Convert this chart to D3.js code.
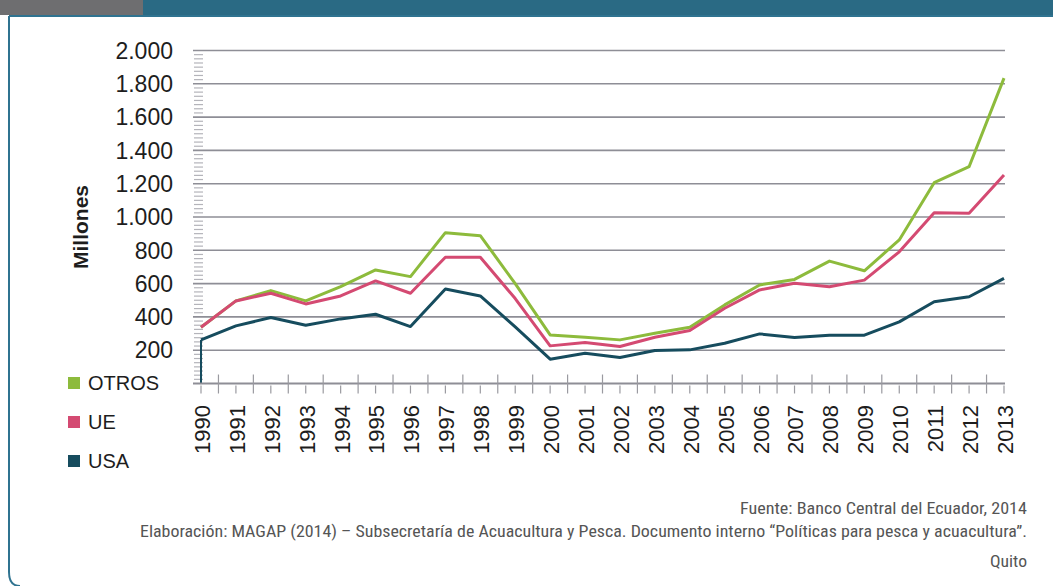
<!DOCTYPE html>
<html>
<head>
<meta charset="utf-8">
<script src="https://cdn.jsdelivr.net/npm/d3@7"></script>
<style>
  body { margin: 0; background: #fff; }
  svg { display: block; font-family: "Liberation Sans", Arial, sans-serif; }
</style>
</head>
<body>
<div id="chart"></div>
<script>
// years and series, values in millions
let years = d3.range(1990, 2014);
let otros = [338, 496, 558, 496, 582, 682, 642, 906, 888, 600, 292, 278, 262, 302, 338, 472, 592, 625, 735, 677, 862, 1206, 1302, 1834];
let ue = [338, 496, 542, 478, 526, 616, 542, 758, 758, 510, 226, 246, 222, 278, 318, 452, 562, 602, 581, 621, 791, 1026, 1022, 1252];
let usa = [262, 346, 396, 350, 388, 416, 342, 568, 526, 340, 146, 182, 156, 198, 202, 242, 298, 276, 290, 290, 370, 491, 521, 631];
let yTicks = [200, 400, 600, 800, 1000, 1200, 1400, 1600, 1800, 2000];
let seriesNames = ['OTROS', 'UE', 'USA'];
let seriesColors = ['#8dbb3c', '#d44a72', '#164c5e'];

let width = 1053, height = 586;

let svg = d3.select('#chart')
    .append('svg')
    .attr('width', width)
    .attr('height', height);

// frame: banner on top + thin border on the left
svg.append('rect').attr('x', 0).attr('y', 0).attr('width', width).attr('height', 15).attr('fill', '#2a6a84');
svg.append('rect').attr('x', 0).attr('y', 0).attr('width', 143).attr('height', 15).attr('fill', '#6e6e70');
svg.append('path')
    .attr('d', 'M9,16 H' + width + ' M9,16 V572 Q9,586 20,586')
    .attr('fill', 'none')
    .attr('stroke', '#2f7390')
    .attr('stroke-width', 2);

let x = d3.scalePoint()
    .domain(years)
    .range([201, 1004]);

let y = d3.scaleLinear()
    .domain([0, 2000])
    .range([383.5, 50.5]);

let step = x.step();

// gridlines
svg.append('g')
    .selectAll('line')
    .data(yTicks)
    .enter()
    .append('line')
    .attr('x1', 193)
    .attr('x2', 1005)
    .attr('y1', function(d) { return y(d); })
    .attr('y2', function(d) { return y(d); })
    .attr('stroke', '#8e8e96')
    .attr('stroke-width', 1.6);

// little minor ticks on the left
svg.append('g')
    .selectAll('line')
    .data(d3.range(25, 2000, 25).filter(function(d) { return d % 200 !== 0; }))
    .enter()
    .append('line')
    .attr('x1', 194)
    .attr('x2', 203)
    .attr('y1', function(d) { return y(d); })
    .attr('y2', function(d) { return y(d); })
    .attr('stroke', '#b4b4ba')
    .attr('stroke-width', 1.2);

// short vertical stub at 1990 (as in the original)
svg.append('line')
    .attr('x1', x(1990)).attr('x2', x(1990))
    .attr('y1', y(0)).attr('y2', y(usa[0]))
    .attr('stroke', seriesColors[2])
    .attr('stroke-width', 2);

// x axis
svg.append('line')
    .attr('x1', 193)
    .attr('x2', 1005)
    .attr('y1', y(0))
    .attr('y2', y(0))
    .attr('stroke', '#8e8e96')
    .attr('stroke-width', 2);

svg.append('g')
    .selectAll('line')
    .data(years)
    .enter()
    .append('line')
    .attr('x1', function(d) { return x(d); })
    .attr('x2', function(d) { return x(d); })
    .attr('y1', y(0) + 2)
    .attr('y2', y(0) + 10)
    .attr('stroke', '#9a9aa0')
    .attr('stroke-width', 1.2);

svg.append('g')
    .selectAll('line')
    .data(years.slice(0, -1))
    .enter()
    .append('line')
    .attr('x1', function(d) { return x(d) + step / 2; })
    .attr('x2', function(d) { return x(d) + step / 2; })
    .attr('y1', y(0) - 9)
    .attr('y2', y(0) + 10)
    .attr('stroke', '#9a9aa0')
    .attr('stroke-width', 1.2);

svg.append('g')
    .selectAll('text')
    .data(years)
    .enter()
    .append('text')
    .attr('transform', function(d) { return 'translate(' + (x(d) + 1) + ',405) rotate(-90)'; })
    .attr('text-anchor', 'end')
    .attr('dy', '0.36em')
    .attr('font-size', 22)
    .attr('fill', '#1d1d1d')
    .text(function(d) { return d; });

// y labels
let fmt = d3.formatLocale({ decimal: ',', thousands: '.', grouping: [3], currency: ['', ''] }).format(',');
svg.append('g')
    .selectAll('text')
    .data(yTicks)
    .enter()
    .append('text')
    .attr('x', 173)
    .attr('y', function(d) { return y(d); })
    .attr('dy', '0.36em')
    .attr('text-anchor', 'end')
    .attr('font-size', 23)
    .attr('fill', '#1d1d1d')
    .text(function(d) { return fmt(d); });

svg.append('text')
    .attr('transform', 'translate(80,227) rotate(-90)')
    .attr('text-anchor', 'middle')
    .attr('dy', '0.36em')
    .attr('font-size', 21)
    .attr('font-weight', 'bold')
    .attr('fill', '#1d1d1d')
    .text('Millones');

// lines
let line = d3.line()
    .x(function(d, i) { return x(years[i]); })
    .y(function(d) { return y(d); });

svg.append('g')
    .selectAll('path')
    .data([otros, ue, usa])
    .enter()
    .append('path')
    .attr('d', function(d) { return line(d); })
    .attr('fill', 'none')
    .attr('stroke', function(d, i) { return seriesColors[i]; })
    .attr('stroke-width', 3)
    .attr('stroke-linejoin', 'round');

// legend
let legend = svg.append('g')
    .selectAll('g')
    .data(seriesNames)
    .enter()
    .append('g')
    .attr('transform', function(d, i) { return 'translate(68,' + (383 + i * 39) + ')'; });

legend.append('rect')
    .attr('x', 0)
    .attr('y', -6)
    .attr('width', 12)
    .attr('height', 12)
    .attr('fill', function(d, i) { return seriesColors[i]; });

legend.append('text')
    .attr('x', 20)
    .attr('dy', '0.36em')
    .attr('font-size', 20)
    .attr('fill', '#1d1d1d')
    .text(function(d) { return d; });

// source notes
let notes = [
    ['Fuente: Banco Central del Ecuador, 2014', 514, 287],
    ['Elaboración: MAGAP (2014) – Subsecretaría de Acuacultura y Pesca. Documento interno “Políticas para pesca y acuacultura”.', 537, 887],
    ['Quito', 567, 37]
];
svg.append('g')
    .selectAll('text')
    .data(notes)
    .enter()
    .append('text')
    .attr('x', 1027)
    .attr('y', function(d) { return d[1]; })
    .attr('text-anchor', 'end')
    .attr('font-family', '"Liberation Sans Narrow", "Roboto Condensed", "Liberation Sans", sans-serif')
    .attr('font-size', 17)
    .attr('fill', '#555')
    .attr('textLength', function(d) { return d[2]; })
    .attr('lengthAdjust', 'spacingAndGlyphs')
    .text(function(d) { return d[0]; });
</script>
</body>
</html>
